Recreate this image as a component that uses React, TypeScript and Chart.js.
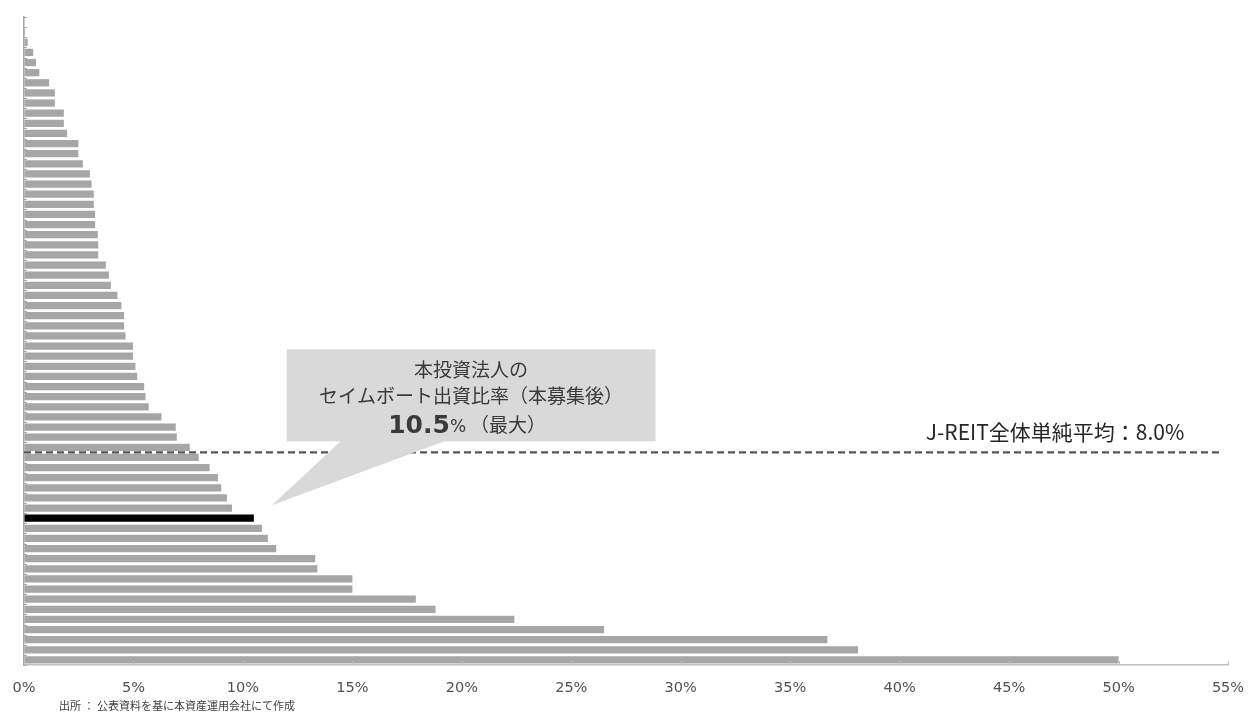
import React, { useEffect, useRef } from "react";
import { Chart, registerables } from "chart.js";

Chart.register(...registerables);

// Sponsor (same-boat) investment ratio of each J-REIT, ranked ascending (%)
const VALUES: number[] = [
  0.02, 0.05, 0.17, 0.42, 0.55, 0.7, 1.15, 1.41, 1.41, 1.82,
  1.82, 1.97, 2.48, 2.48, 2.69, 3.01, 3.09, 3.19, 3.19, 3.25,
  3.25, 3.37, 3.39, 3.39, 3.74, 3.88, 3.97, 4.27, 4.45, 4.57,
  4.57, 4.64, 4.98, 4.98, 5.09, 5.17, 5.49, 5.55, 5.7, 6.28,
  6.93, 6.98, 7.57, 7.98, 8.48, 8.86, 9.01, 9.27, 9.5, 10.5,
  10.87, 11.14, 11.52, 13.3, 13.4, 15.0, 15.0, 17.9, 18.8, 22.4,
  26.5, 36.7, 38.1, 50.0,
];
const CATEGORIES: string[] = VALUES.map((_, i) => String(i + 1));
const HIGHLIGHT_INDEX = 49;
const HIGHLIGHT_VALUE = 10.5;
const AVERAGE_VALUE = 8.0;
const AVERAGE_RANK_POSITION = 42.5; // line drawn between ranks 43 and 44
const X_MIN = 0;
const X_MAX = 55;
const X_STEP = 5;

const AVG_LABEL = "J-REIT全体単純平均：" + AVERAGE_VALUE.toFixed(1) + "%";
const CALLOUT_LINE1 = "本投資法人の";
const CALLOUT_LINE2 = "セイムボート出資比率（本募集後）";
const CALLOUT_SUFFIX = "（最大）";
const SOURCE_TEXT = "出所 ： 公表資料を基に本資産運用会社にて作成";

const JP = "'Noto Sans CJK JP', 'Noto Sans', sans-serif";

const overlayPlugin = {
  id: "overlay",
  afterDatasetsDraw(chart: any) {
    const { ctx, chartArea, scales } = chart;
    const xs = scales.x;
    const ys = scales.y;
    ctx.save();

    // inside tick marks on x axis
    ctx.strokeStyle = "#bfbfbf";
    ctx.lineWidth = 1;
    for (let v = X_MIN; v <= X_MAX; v += X_STEP) {
      const px = Math.round(xs.getPixelForValue(v)) + 0.5;
      ctx.beginPath();
      ctx.moveTo(px, chartArea.bottom - 4);
      ctx.lineTo(px, chartArea.bottom);
      ctx.stroke();
    }
    // inside tick marks on category axis
    ctx.strokeStyle = "#a6a6a6";
    for (let i = 0; i <= VALUES.length; i++) {
      const py = Math.round(ys.getPixelForValue(i - 0.5)) + 0.5;
      ctx.beginPath();
      ctx.moveTo(chartArea.left, py);
      ctx.lineTo(chartArea.left + 3, py);
      ctx.stroke();
    }

    // average dashed line
    const dashY = ys.getPixelForValue(AVERAGE_RANK_POSITION);
    ctx.strokeStyle = "#555555";
    ctx.lineWidth = 2.2;
    ctx.setLineDash([7, 4]);
    ctx.beginPath();
    ctx.moveTo(chartArea.left, dashY);
    ctx.lineTo(xs.getPixelForValue(54.6), dashY);
    ctx.stroke();
    ctx.setLineDash([]);

    // average label
    ctx.fillStyle = "#262626";
    ctx.font = `21px ${JP}`;
    ctx.textAlign = "right";
    ctx.textBaseline = "middle";
    ctx.fillText(AVG_LABEL, xs.getPixelForValue(53.0), dashY - 20);

    // callout
    const bx1 = xs.getPixelForValue(12.0);
    const bx2 = xs.getPixelForValue(28.85);
    const by1 = dashY - 103;
    const by2 = dashY - 11;
    const hlY = ys.getPixelForValue(HIGHLIGHT_INDEX);
    ctx.fillStyle = "#d9d9d9";
    ctx.fillRect(bx1, by1, bx2 - bx1, by2 - by1);
    ctx.beginPath();
    ctx.moveTo(xs.getPixelForValue(14.5), by2 - 1);
    ctx.lineTo(xs.getPixelForValue(19.3), by2 - 1);
    ctx.lineTo(xs.getPixelForValue(HIGHLIGHT_VALUE) + 18, hlY - 13);
    ctx.closePath();
    ctx.fill();

    const cx = (bx1 + bx2) / 2;
    ctx.fillStyle = "#3a3a3a";
    ctx.textAlign = "center";
    ctx.font = `19px ${JP}`;
    ctx.fillText(CALLOUT_LINE1, cx, by1 + 20);
    ctx.fillText(CALLOUT_LINE2, cx, by1 + 46);

    // third line: big value + % + suffix
    const numText = HIGHLIGHT_VALUE.toFixed(1);
    const fNum = "bold 25px 'DejaVu Sans', sans-serif";
    const fPct = "17px 'DejaVu Sans', sans-serif";
    const fSuf = `19px ${JP}`;
    ctx.font = fNum;
    const wNum = ctx.measureText(numText).width;
    ctx.font = fPct;
    const wPct = ctx.measureText("%").width;
    ctx.font = fSuf;
    const wSuf = ctx.measureText(CALLOUT_SUFFIX).width;
    const gap = 4;
    let x0 = cx - (wNum + wPct + gap + wSuf) / 2 - 4;
    const y3 = by1 + 75;
    ctx.textAlign = "left";
    ctx.textBaseline = "alphabetic";
    ctx.font = fNum;
    ctx.fillText(numText, x0, y3 + 9);
    x0 += wNum;
    ctx.font = fPct;
    ctx.fillText("%", x0, y3 + 8);
    x0 += wPct + gap;
    ctx.font = fSuf;
    ctx.textBaseline = "middle";
    ctx.fillText(CALLOUT_SUFFIX, x0, y3);

    // source
    ctx.font = `11px ${JP}`;
    ctx.fillStyle = "#404040";
    ctx.textAlign = "left";
    ctx.textBaseline = "middle";
    ctx.fillText(SOURCE_TEXT, 59, chart.height - 7);

    ctx.restore();
  },
};

export default function App() {
  const ref = useRef<HTMLCanvasElement | null>(null);
  useEffect(() => {
    if (!ref.current) return;
    const chart = new Chart(ref.current, {
      type: "bar",
      data: {
        labels: CATEGORIES,
        datasets: [
          {
            data: VALUES,
            backgroundColor: VALUES.map((_, i) =>
              i === HIGHLIGHT_INDEX ? "#000000" : "#a6a6a6"
            ),
            barPercentage: 0.72,
            categoryPercentage: 1,
          },
        ],
      },
      options: {
        indexAxis: "y",
        animation: false,
        responsive: true,
        maintainAspectRatio: false,
        layout: { padding: { left: 24, right: 22, top: 17, bottom: 0 } },
        plugins: {
          legend: { display: false },
          tooltip: { enabled: false },
        },
        scales: {
          x: {
            min: X_MIN,
            max: X_MAX,
            grid: {
              display: true,
              drawOnChartArea: false,
              drawTicks: true,
              tickLength: 15,
              color: "rgba(0,0,0,0)",
            },
            border: { display: true, color: "#bfbfbf", width: 1.5 },
            ticks: {
              stepSize: X_STEP,
              padding: 0,
              color: "#505050",
              font: { family: "'DejaVu Sans', sans-serif", size: 14.5 },
              callback: (v: any) => v + "%",
            },
            afterFit: (scale: any) => {
              scale.height = 48;
            },
          },
          y: {
            grid: { display: false, drawTicks: false },
            border: { display: true, color: "#a6a6a6", width: 1.5 },
            ticks: { display: false },
            afterFit: (scale: any) => {
              scale.width = 0;
            },
          },
        },
      },
      plugins: [overlayPlugin],
    } as any);
    return () => chart.destroy();
  }, []);
  return (
    <div
      style={{
        position: "fixed",
        left: 0,
        top: 0,
        width: 1250,
        height: 713,
        background: "#ffffff",
      }}
    >
      <canvas ref={ref} />
    </div>
  );
}
